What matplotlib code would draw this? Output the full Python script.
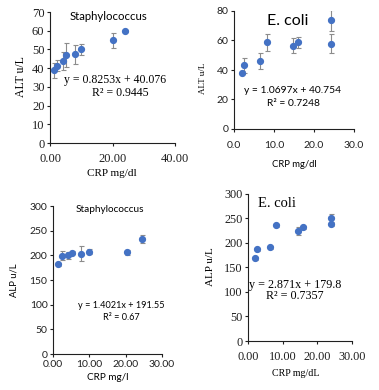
import numpy as np
import matplotlib.pyplot as plt
from matplotlib.ticker import FormatStrFormatter

# --- data ---
# ALT, Staphylococcus
alt_sta_x = [1.4, 2.3, 4.3, 5.2, 7.9, 9.9, 20.0, 24.0]
alt_sta_y = [39.0, 41.3, 43.8, 47.0, 47.3, 50.0, 55.0, 60.0]
alt_sta_e = [4.0, 3.0, 5.0, 6.5, 5.0, 3.0, 4.0, 0.5]

# ALT, E. coli
alt_eco_x = [2.0, 2.6, 6.4, 8.2, 14.8, 16.1, 24.2, 24.2]
alt_eco_y = [38.2, 43.1, 46.1, 58.7, 56.4, 58.7, 73.7, 57.8]
alt_eco_e = [1.0, 5.3, 5.6, 5.5, 5.2, 4.0, 7.3, 6.4]

# ALP, Staphylococcus
alp_sta_x = [1.4, 2.5, 4.15, 5.1, 7.8, 10.0, 20.3, 24.6]
alp_sta_y = [182.0, 199.5, 200.2, 205.0, 203.0, 207.0, 206.3, 233.5]
alp_sta_e = [3.0, 9.0, 7.0, 3.0, 15.0, 5.0, 5.0, 8.0]

# ALP, E. coli
alp_eco_x = [1.9, 2.5, 6.25, 8.0, 14.5, 16.0, 24.0, 24.0]
alp_eco_y = [167.8, 186.8, 190.2, 235.7, 224.0, 231.0, 250.0, 237.0]
alp_eco_e = [3.0, 3.0, 3.0, 3.0, 8.0, 3.0, 8.0, 3.0]

SERIF = 'Liberation Serif'
SANS = 'Lato'
BLUE = '#4472C4'
W, H = 379, 390


def px_axes(fig, left, right, top, bottom):
    return fig.add_axes([left / W, 1 - bottom / H, (right - left) / W, (bottom - top) / H])


def px_text(fig, x, y, s, **kw):
    fig.text(x / W, 1 - y / H, s, ha='center', va='center', **kw)


def panel(ax, x, y, e, xlim, ylim, xstep, ystep, fmt, tickfont, xpad=1.5):
    ax.errorbar(x, y, yerr=e, fmt='o', color=BLUE, ms=4.2, ecolor='#8c8c8c',
                elinewidth=0.8, capsize=1.8, capthick=0.8, zorder=3)
    ax.set_xlim(*xlim)
    ax.set_ylim(*ylim)
    ax.set_xticks(np.arange(xlim[0], xlim[1] + 0.01, xstep))
    ax.set_yticks(np.arange(ylim[0], ylim[1] + 0.01, ystep))
    ax.xaxis.set_major_formatter(FormatStrFormatter(fmt))
    for s in ['top', 'right']:
        ax.spines[s].set_visible(False)
    for s in ['left', 'bottom']:
        ax.spines[s].set_color('#202020')
        ax.spines[s].set_linewidth(0.8)
    ax.tick_params(length=2.5, width=0.8, pad=1.5, labelsize=tickfont[1], colors='#202020')
    ax.tick_params(axis='x', pad=xpad)
    for lab in ax.get_xticklabels() + ax.get_yticklabels():
        lab.set_family(tickfont[0])


fig = plt.figure(figsize=(W / 100, H / 100), dpi=100)

# top-left: ALT Staphylococcus
ax1 = px_axes(fig, 50, 175, 12, 143)
panel(ax1, alt_sta_x, alt_sta_y, alt_sta_e, (0, 40), (0, 70), 20, 10, '%.2f', (SERIF, 9), xpad=5)
ax1.text(18.7, 67.5, 'Staphylococcus', family=SANS, fontsize=8.2, ha='center', va='center')
ax1.text(20.8, 33.7, 'y = 0.8253x + 40.076', family=SERIF, fontsize=8.5, ha='center', va='center')
ax1.text(22.4, 26.6, 'R² = 0.9445', family=SERIF, fontsize=8.5, ha='center', va='center')
px_text(fig, 21, 77, 'ALT u/L', family=SERIF, fontsize=8.5, rotation=90)
px_text(fig, 112, 174, 'CRP mg/dl', family=SERIF, fontsize=8)

# top-right: ALT E. coli
ax2 = px_axes(fig, 234, 354, 11, 129)
panel(ax2, alt_eco_x, alt_eco_y, alt_eco_e, (0, 30), (0, 80), 10, 20, '%.1f', (SANS, 7.5), xpad=6.5)
ax2.text(13.5, 73.3, 'E. coli', family=SANS, fontsize=11.5, ha='center', va='center')
ax2.text(14.75, 25.8, 'y = 1.0697x + 40.754', family=SANS, fontsize=7.4, ha='center', va='center')
ax2.text(14.75, 17.5, 'R² = 0.7248', family=SANS, fontsize=7.4, ha='center', va='center')
px_text(fig, 203, 78, 'ALT u/L', family=SERIF, fontsize=6.5, rotation=90)
px_text(fig, 294, 164, 'CRP mg/dl', family=SANS, fontsize=6.8)

# bottom-left: ALP Staphylococcus
ax3 = px_axes(fig, 53, 162, 206, 354)
panel(ax3, alp_sta_x, alp_sta_y, alp_sta_e, (0, 30), (0, 300), 10, 50, '%.2f', (SANS, 7.5))
ax3.text(15.7, 292, 'Staphylococcus', family=SANS, fontsize=7.2, ha='center', va='center')
ax3.text(18.9, 98.4, 'y = 1.4021x + 191.55', family=SANS, fontsize=6.6, ha='center', va='center')
ax3.text(18.9, 73, 'R² = 0.67', family=SANS, fontsize=6.6, ha='center', va='center')
px_text(fig, 14, 280, 'ALP u/L', family=SANS, fontsize=6.8, rotation=90)
px_text(fig, 108, 377, 'CRP mg/l', family=SANS, fontsize=7.2)

# bottom-right: ALP E. coli
ax4 = px_axes(fig, 248, 352, 193.5, 341)
panel(ax4, alp_eco_x, alp_eco_y, alp_eco_e, (0, 30), (0, 300), 10, 50, '%.2f', (SERIF, 8.8), xpad=5)
ax4.text(8.4, 280, 'E. coli', family=SERIF, fontsize=10.5, ha='center', va='center')
ax4.text(13.5, 114.8, 'y = 2.871x + 179.8', family=SERIF, fontsize=8.7, ha='center', va='center')
ax4.text(13.5, 91, 'R² = 0.7357', family=SERIF, fontsize=8.7, ha='center', va='center')
px_text(fig, 210, 267, 'ALP u/L', family=SERIF, fontsize=8, rotation=90)
px_text(fig, 296, 373, 'CRP mg/dL', family=SERIF, fontsize=7.2)

fig.savefig('out.png', dpi=100)
